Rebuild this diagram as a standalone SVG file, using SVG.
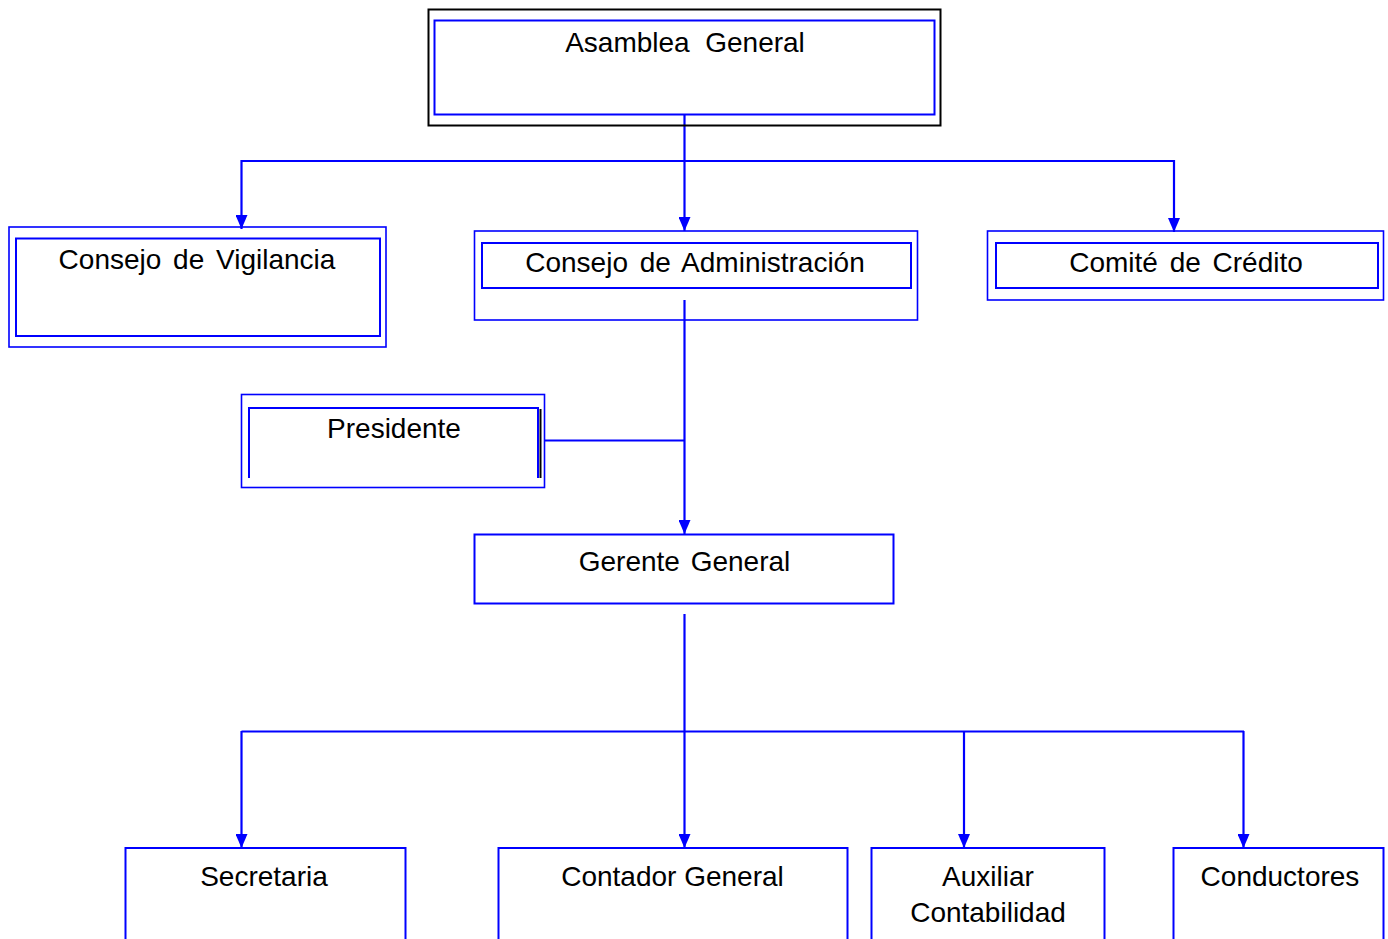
<svg xmlns="http://www.w3.org/2000/svg" width="1388" height="939" viewBox="0 0 1388 939">
<style>
.bx{fill:none;stroke:#0000FF;stroke-width:2}
.bo{fill:none;stroke:#0000FF;stroke-width:1.6}
.t{font-family:"Liberation Sans",Arial,sans-serif;font-size:28px;fill:#000;text-anchor:middle}
.c{fill:none;stroke:#0000FF;stroke-width:2.2}
</style>
<defs>
<marker id="ar" markerUnits="userSpaceOnUse" markerWidth="14" markerHeight="12" refX="14" refY="6" orient="auto" viewBox="0 0 14 12">
<path d="M0,0 L14,6 L0,12 z" fill="#0000FF"/>
</marker>
</defs>
<rect width="1388" height="939" fill="#fff"/>
<g id="connectors">
<line class="c" x1="684.5" y1="114" x2="684.5" y2="231" marker-end="url(#ar)"/>
<polyline class="c" points="684.5,161 241.5,161 241.5,229" marker-end="url(#ar)"/>
<polyline class="c" points="684.5,161 1174,161 1174,232" marker-end="url(#ar)"/>
<line class="c" x1="684.5" y1="300" x2="684.5" y2="534" marker-end="url(#ar)"/>
<line class="c" x1="545" y1="440.5" x2="684.5" y2="440.5"/>
<line class="c" x1="684.5" y1="614" x2="684.5" y2="848" marker-end="url(#ar)"/>
<line class="c" x1="241.5" y1="731.5" x2="1244" y2="731.5"/>
<line class="c" x1="241.5" y1="731" x2="241.5" y2="848" marker-end="url(#ar)"/>
<line class="c" x1="964" y1="731" x2="964" y2="848" marker-end="url(#ar)"/>
<line class="c" x1="1243.5" y1="731" x2="1243.5" y2="848" marker-end="url(#ar)"/>
</g>
<g id="asamblea">
<rect x="428.5" y="9.5" width="512" height="116" fill="none" stroke="#000" stroke-width="2"/>
<rect class="bx" x="434.5" y="20.5" width="500" height="94"/>
<text class="t" x="685" y="52" xml:space="preserve">Asamblea  General</text>
</g>
<g id="vigilancia">
<rect class="bo" x="9" y="227" width="377" height="120"/>
<rect class="bx" x="16" y="238.5" width="364" height="97.5"/>
<text class="t" x="197" y="269" word-spacing="4">Consejo de Vigilancia</text>
</g>
<g id="administracion">
<rect class="bo" x="474.5" y="231" width="443" height="89"/>
<rect class="bx" x="482" y="243" width="429" height="45"/>
<text class="t" x="695" y="272" word-spacing="4">Consejo de Administración</text>
</g>
<g id="credito">
<rect class="bo" x="987.5" y="231" width="396" height="69"/>
<rect class="bx" x="996" y="243" width="382" height="45"/>
<text class="t" x="1186" y="272" word-spacing="4">Comité de Crédito</text>
</g>
<g id="presidente">
<rect class="bo" x="241.5" y="394.5" width="303" height="93"/>
<polyline class="bx" points="249,478 249,408 538,408 538,478"/>
<line x1="540.5" y1="409" x2="540.5" y2="478" stroke="#000" stroke-width="2"/>
<text class="t" x="394" y="438">Presidente</text>
</g>
<g id="gerente">
<rect class="bx" x="474.5" y="534.5" width="419" height="69"/>
<text class="t" x="684.5" y="571" word-spacing="3">Gerente General</text>
</g>
<g id="secretaria">
<rect class="bx" x="125.5" y="848" width="280" height="120"/>
<text class="t" x="264" y="886">Secretaria</text>
</g>
<g id="contador">
<rect class="bx" x="498.5" y="848" width="349" height="120"/>
<text class="t" x="672.5" y="886">Contador General</text>
</g>
<g id="auxiliar">
<rect class="bx" x="871.5" y="848" width="233" height="120"/>
<text class="t" x="988" y="886">Auxiliar</text>
<text class="t" x="988" y="922">Contabilidad</text>
</g>
<g id="conductores">
<rect class="bx" x="1173.5" y="848" width="210" height="120"/>
<text class="t" x="1280" y="886">Conductores</text>
</g>
</svg>
